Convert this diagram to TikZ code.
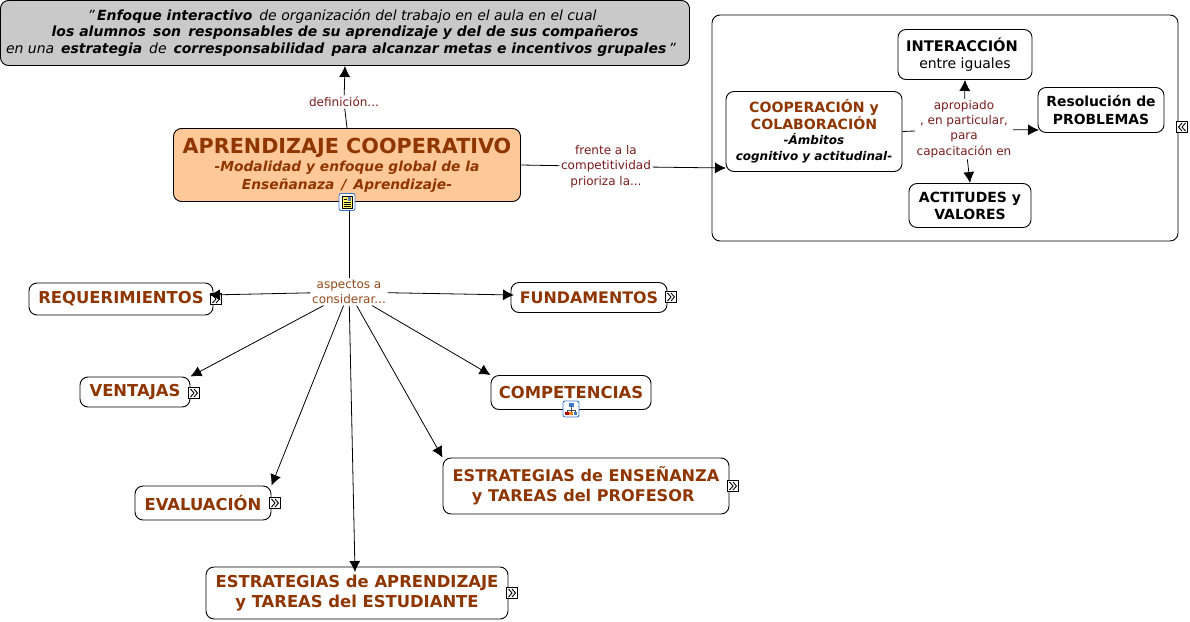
\documentclass[tikz,border=0pt]{standalone}
\usepackage{fontspec}
\setmainfont{DejaVu Sans}
\usetikzlibrary{arrows.meta}
\definecolor{titlebrown}{HTML}{8F3600}
\definecolor{linkred}{HTML}{7A1C1C}
\definecolor{linkbrown}{HTML}{96491C}
\definecolor{mainfill}{HTML}{FFC898}
\definecolor{defgray}{HTML}{C9C9C9}
\definecolor{iconblue}{HTML}{3C78C8}
\newcommand*\ambito[1]{{\color{black}\fontsize{12}{14.5}\selectfont\itshape #1}}
\newcommand*\straightq{\symbol{34}}
\tikzset{
  concept/.style={draw=black, rounded corners=8pt, fill=white, align=center, inner sep=0pt, line width=0.9pt},
  brownbox/.style={concept, text=titlebrown, font=\fontsize{16.4}{20}\selectfont\bfseries},
  blackbox/.style={concept, text=black, font=\fontsize{14}{17}\selectfont},
  linklabel/.style={fill=white, align=center, inner sep=1.5pt, text=linkred, font=\fontsize{12}{15.2}\selectfont},
  link/.style={line width=0.8pt, -{Latex[length=11pt,width=11pt]}},
  plainlink/.style={line width=0.8pt},
  pics/more/.style={code={
    \draw[fill=white, line width=0.8pt] (-5.5,-5.5) rectangle (5.5,5.5);
    \draw[line width=0.9pt] (-3.5,-4) -- (0,0) -- (-3.5,4) (0,-4) -- (3.5,0) -- (0,4);
  }},
  pics/less/.style={code={
    \draw[fill=white, line width=0.8pt] (-5.5,-5.5) rectangle (5.5,5.5);
    \draw[line width=0.9pt] (0,-4) -- (-3.5,0) -- (0,4) (3.5,-4) -- (0,0) -- (3.5,4);
  }},
  pics/docicon/.style={code={
    \draw[iconblue, fill=white, rounded corners=2pt, line width=0.9pt] (-8,-8.5) rectangle (8,8.5);
    \draw[black, fill=yellow!60, line width=0.7pt] (-5,-6) rectangle (5,6);
    \draw[black, line width=0.6pt] (-3.5,-3) -- (0,-3) (-3.5,0) -- (3.5,0) (-3.5,2) -- (3.5,2) (-3.5,4) -- (3.5,4);
    \fill[iconblue!60!gray] (0.5,-5) rectangle (4,-1);
  }},
  pics/mapicon/.style={code={
    \draw[iconblue, fill=white, rounded corners=2pt, line width=0.9pt] (-8,-8) rectangle (8,8);
    \draw[black!70, line width=0.6pt] (0,-3) -- (0,3) (-4,3) -- (-4,1) -- (4,1) -- (4,3);
    \fill[iconblue] (-2.5,-6) rectangle (2.5,-2.5);
    \fill[red!70!black] (-6,2.5) rectangle (-2.5,6);
    \fill[orange] (-1.7,2.5) rectangle (1.7,6);
    \fill[iconblue] (2.5,2.5) rectangle (6,6);
  }},
}
\begin{document}
\begin{tikzpicture}[x=1pt,y=-1pt]
\useasboundingbox (0,0) rectangle (1190,621);

\node[concept, fill=defgray, minimum width=689pt, minimum height=65pt,
      font=\fontsize{14}{17}\selectfont\itshape] (definicion) at (345,33)
  {\raisebox{-0.7pt}{\straightq\,\textbf{Enfoque interactivo}\, de organización del trabajo en el aula en el cual}\hspace*{6pt}\\
   \textbf{los alumnos\, son\, responsables de su aprendizaje y del de sus compañeros}\\
   en una\, \textbf{estrategia}\, de\, \textbf{corresponsabilidad\, para alcanzar metas e incentivos grupales}\,\straightq\hspace*{8pt}};
\node[concept, fill=mainfill, text=titlebrown, minimum width=347pt, minimum height=73pt,
      font=\fontsize{13.8}{18}\selectfont\bfseries\itshape] (aprendizaje) at (347,165)
  {{\fontsize{20.7}{24}\selectfont\upshape APRENDIZAJE COOPERATIVO}\\
   -Modalidad y enfoque global de la\hspace*{3pt}\\Enseñanaza\, / \,Aprendizaje-};

\node[concept, minimum width=466pt, minimum height=226pt] (marco) at (945,128) {};
\node[concept, minimum width=176pt, minimum height=80pt, text=titlebrown,
      font=\fontsize{14.1}{17}\selectfont\bfseries] (cooperacion) at (814,131.5)
  {COOPERACIÓN y\\COLABORACIÓN\\[-1.5pt]
   \ambito{-Ámbitos}\\[-1pt]\ambito{cognitivo y actitudinal-}};
\node[blackbox, minimum width=134pt, minimum height=50pt] (interaccion) at (965,54.5)
  {\textbf{\fontsize{14.6}{17}\selectfont INTERACCIÓN\hspace*{6pt}}\\entre iguales};
\node[blackbox, minimum width=126pt, minimum height=45pt, font=\fontsize{13.9}{18}\selectfont\bfseries] (resolucion) at (1101,110)
  {Resolución de\\PROBLEMAS};
\node[blackbox, minimum width=122pt, minimum height=44pt, font=\fontsize{14}{17}\selectfont\bfseries] (actitudes) at (970,205.5)
  {ACTITUDES y\\VALORES};

\node[brownbox, minimum width=184pt, minimum height=32pt] (requerimientos) at (121,299) {REQUERIMIENTOS};
\node[brownbox, minimum width=156pt, minimum height=30pt, font=\fontsize{15.9}{20}\selectfont\bfseries] (fundamentos) at (589,297.5) {FUNDAMENTOS};
\node[brownbox, minimum width=110pt, minimum height=30pt] (ventajas) at (135,392) {VENTAJAS};
\node[brownbox, minimum width=160pt, minimum height=34pt] (competencias) at (571,392.5) {COMPETENCIAS};
\node[brownbox, minimum width=136pt, minimum height=34pt] (evaluacion) at (203,503) {EVALUACIÓN};
\node[brownbox, minimum width=286pt, minimum height=56pt, font=\fontsize{16.1}{20}\selectfont\bfseries] (ensenanza) at (586,486)
  {ESTRATEGIAS de ENSEÑANZA\\y TAREAS del PROFESOR\ \ };
\node[brownbox, minimum width=302pt, minimum height=52pt] (estudiante) at (357,593)
  {ESTRATEGIAS de APRENDIZAJE\\y TAREAS del ESTUDIANTE\ };

\node[linklabel] (defin) at (344,102) {definición...};
\node[linklabel] (frente) at (606,166.5) {frente a la\\competitividad\\prioriza la...};
\node[linklabel, text=linkbrown] (aspectos) at (349,292) {aspectos a\\considerar...};
\node[linklabel] (apropiado) at (964,129) {apropiado\\, en particular,\\para\\capacitación en};

\coordinate (cooperin) at (726,168);
\coordinate (resolin) at (1039,130);
\coordinate (requerin) at (209,295);
\coordinate (fundain) at (514,295);
\coordinate (estudiain) at (355,572);

\draw[plainlink] (aprendizaje.north) -- (defin);
\draw[link] (defin) -- (definicion.south);
\draw[plainlink] (aprendizaje.east) -- (frente);
\draw[link] (frente) -- (cooperin);
\draw[plainlink] (aprendizaje.south -| aspectos) -- (aspectos);
\draw[plainlink] (cooperacion.east) -- (apropiado);
\draw[link] (apropiado) -- (interaccion.south);
\draw[link] (apropiado) -- (resolin);
\draw[link] (apropiado) -- (actitudes.north);

\draw pic at (216,299) {more};
\draw pic at (671,297) {more};
\draw pic at (194,393) {more};
\draw pic at (275,503) {more};
\draw pic at (733,486) {more};
\draw pic at (512,593) {more};
\draw pic at (1182,127) {less};
\draw pic at (347,202) {docicon};
\draw pic at (571,409) {mapicon};

\draw[link] (aspectos) -- (requerin);
\draw[link] (aspectos) -- (fundain);
\draw[link] (aspectos) -- (ventajas.north east);
\draw[link] (aspectos) -- (competencias.north west);
\draw[link] (aspectos) -- (evaluacion.north east);
\draw[link] (aspectos) -- (ensenanza.north west);
\draw[link] (aspectos) -- (estudiain);
\end{tikzpicture}
\end{document}
